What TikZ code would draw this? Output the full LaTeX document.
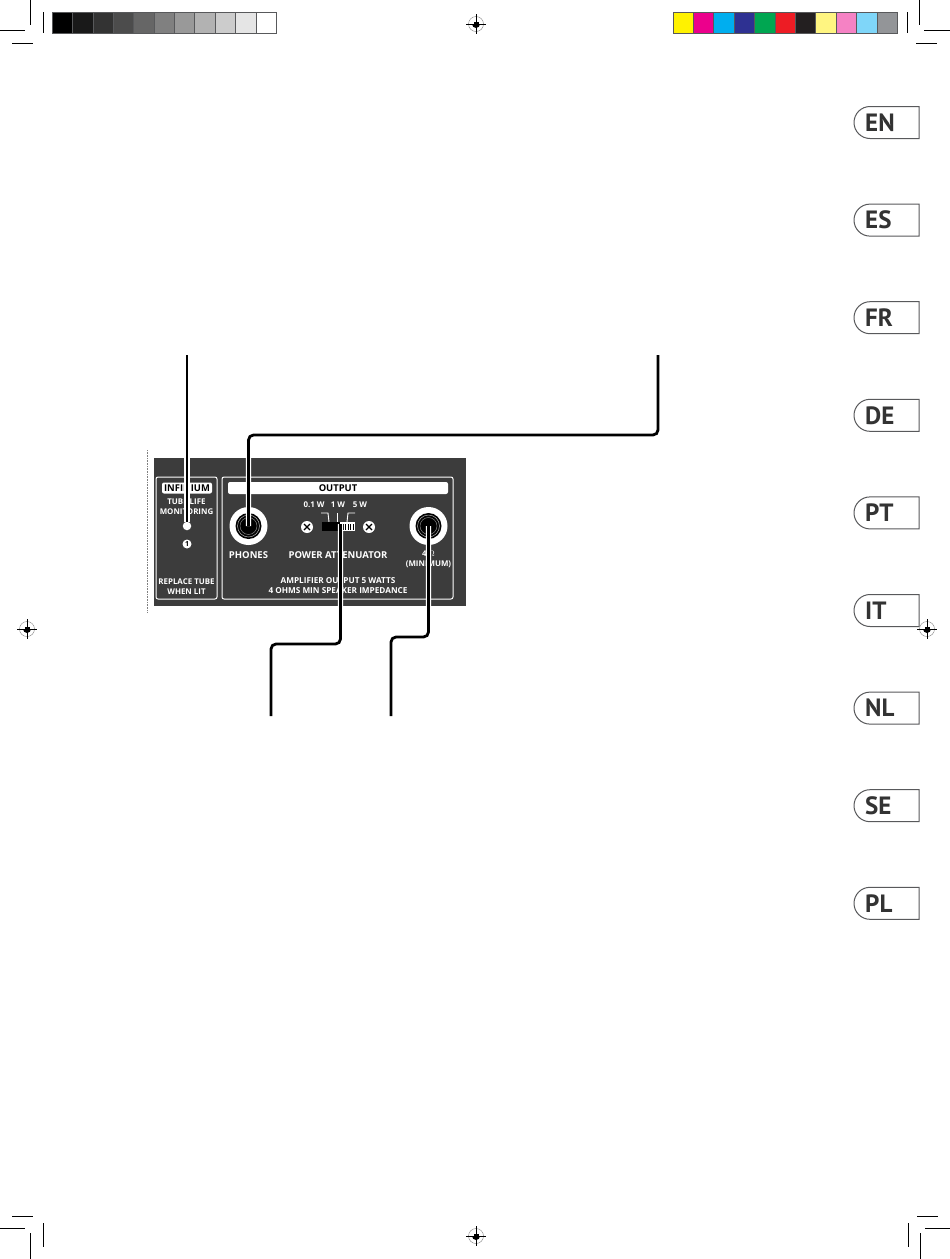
\documentclass[tikz,border=0pt]{standalone}
\usepackage{fontspec}
\usepackage{xcolor}
\usepackage{tikz}
\usetikzlibrary{positioning,calc}
\setmainfont{Open Sans}
\newfontfamily\tabfont{PT Sans}
\definecolor{paneldark}{HTML}{3C3C3C}
\definecolor{tabtext}{HTML}{333333}
\definecolor{tabedge}{HTML}{58595B}
\tikzset{
  crop/.style={black,line width=0.7pt},
  swatch/.style={draw=tabedge,line width=0.8pt,minimum width=20.4pt,minimum height=21pt,inner sep=0pt},
  tabtag/.style={anchor=west,inner sep=0pt,text=tabtext,font=\tabfont\bfseries\fontsize{25}{25}\selectfont},
  paneltext/.style={inner sep=0pt,text=white,align=center,font=\bfseries\fontsize{7.9}{10}\selectfont},
  panelwide/.style={paneltext,font=\bfseries\fontsize{8.2}{10}\selectfont},
  panelbig/.style={paneltext,font=\bfseries\fontsize{9.5}{10}\selectfont},
  panelbar/.style={fill=white,rounded corners=2pt,inner sep=0pt,text=black,font=\bfseries\fontsize{9.4}{10}\selectfont},
  panelbox/.style={draw=white,line width=1pt,rounded corners=2pt},
  jack/.style={circle,fill=white,inner sep=0pt,minimum size=38pt},
  screw/.style={circle,fill=white,inner sep=0pt,minimum size=12pt},
  leader/.style={line width=2.8pt,rounded corners=5pt,preaction={draw,white,line width=5.2pt}}
}
\newcommand{\regmark}[1]{
\draw[line width=0.4pt,gray](#1)circle(7.5pt);
\fill[black]($(#1)+(-4,0)$)arc(180:360:4pt)--cycle;
\fill[black]($(#1)+(-2.5,-2)$)rectangle($(#1)+(2.5,2)$);
\draw[line width=0.6pt]($(#1)+(-10,0)$)--($(#1)+(10,0)$);
\draw[line width=0.6pt]($(#1)+(0,-10)$)--($(#1)+(0,10)$);
}
\newcommand{\jackrings}[1]{
\fill[black](#1)circle(13pt);
\draw[white!70!black,line width=0.5pt](#1)circle(11pt);
\draw[white!50!black,line width=0.5pt](#1)circle(8.5pt);
\fill[black](#1)circle(6.5pt);
}
\begin{document}
\begin{tikzpicture}[x=1pt,y=-1pt]
\useasboundingbox(0,0)rectangle(950,1259);
\fill[white](0,0)rectangle(950,1259);
\foreach \a/\b/\c/\d in {30/0/30/25,0/30/25/30,43/12/43/33,12/43/33/43,919/0/919/25,924/30/950/30,907/12/907/33,916/43/937/43,12/1216/33/1216,0/1228/25/1228,43/1223/43/1247,30/1233/30/1259,917/1216/938/1216,925/1228/950/1228,908/1223/908/1247,920/1233/920/1259}
  \draw[crop](\a,\b)--(\c,\d);
\foreach \k/\g in {0/100,1/90,2/80,3/70,4/60,5/50,6/40,7/30,8/20,9/10,10/0}
  \node[swatch,fill=black!\g,anchor=north west](gray\k)at({52+\k*20.35},12.3){};
\foreach \k/\c in {0/FFF200,1/EC008C,2/00AEEF,3/2E3192,4/00A651,5/ED1C24,6/231F20,7/FFF581,8/F582C4,9/7FD6F9,10/939598}{
  \definecolor{patch}{HTML}{\c}
  \node[swatch,fill=patch,anchor=north west](colour\k)at({672.6+\k*20.4},12.3){};
}
\regmark{476,24}
\regmark{27,629}
\regmark{927,629}
\regmark{476,1236}
\foreach \k/\t in {0/EN,1/ES,2/FR,3/DE,4/PT,5/IT,6/NL,7/SE,8/PL}{
  \draw[tabedge,line width=1pt,fill=white]({919},{106.5+\k*97.6})--(870,{106.5+\k*97.6})
    arc(90:270:{16pt})--(919,{138.5+\k*97.6})--cycle;
  \node[tabtag](tab\t)at(865,{122.5+\k*97.6}){\t};
}
\draw[gray,densely dotted,line width=0.6pt](147.5,450)--(147.5,613);
\fill[paneldark](154,458)rectangle(466,606);
\draw[panelbox](156,477)rectangle(217,599);
\draw[panelbox](222,477)rectangle(453,599);
\node[panelbar,minimum width=50pt,minimum height=11pt](infinium)at(187,488){INFINIUM};
\node[paneltext](tubelife)at(186.5,507){TUBE LIFE\\MONITORING};
\node[circle,fill=white,inner sep=0pt,minimum size=8.5pt](led)at(187,526){};
\node[circle,fill=white,inner sep=0pt,minimum size=9pt,text=black,font=\bfseries\fontsize{7}{7}\selectfont](ledone)at(187,544){1};
\node[paneltext](replace)at(186.5,586.5){REPLACE TUBE\\WHEN LIT};
\node[panelbar,minimum width=220pt,minimum height=12pt](output)at(338,488){OUTPUT};
\node[jack](phones)at(248.5,526){};
\jackrings{phones.center}
\node[jack](speaker)at(428.5,526){};
\jackrings{speaker.center}
\node[panelbig](phoneslabel)at(248.5,555.5){PHONES};
\node[panelbig](powerlabel)at(338,555.5){POWER ATTENUATOR};
\node[paneltext](ohms)at(428.5,559){4 $\Omega$\\(MINIMUM)};
\node[panelwide](amplifier)at(338,586){AMPLIFIER OUTPUT 5 WATTS\\4 OHMS MIN SPEAKER IMPEDANCE};
\foreach \n/\x in {screwa/307,screwb/369}{
  \node[screw](\n)at(\x,527){};
  \draw[black,line width=1.3pt]($(\n)+(-3,-3)$)--($(\n)+(3,3)$);
  \draw[black,line width=1.3pt]($(\n)+(-3,3)$)--($(\n)+(3,-3)$);
}
\node[paneltext](tenth)at(314,505){0.1 W};
\node[paneltext](onewatt)at(338,505){1 W};
\node[paneltext](fivewatt)at(360,505){5 W};
\draw[white,line width=0.9pt](321,513)--(328,513)--(329,522);
\draw[white,line width=0.9pt](337.5,513)--(337.5,522);
\draw[white,line width=0.9pt](355,513)--(348,513)--(347,522);
\node[fill=white,inner sep=0pt,minimum width=33pt,minimum height=9pt](switch)at(338.5,526.5){};
\fill[black](322,522)rectangle(340,531);
\foreach \x in {343,345.5,348,350.5,353}
  \draw[black,line width=0.6pt](\x,524)--(\x,529.5);
\coordinate(ledend)at(187,355);
\coordinate(phonesend)at(658,355);
\coordinate(phonesbend)at(248.5,435);
\coordinate(switchend)at(271,716);
\coordinate(switchbend)at(340.5,644);
\coordinate(switchtip)at(340.5,524);
\coordinate(speakerend)at(391,716);
\coordinate(speakerbend)at(428.5,637);
\draw[leader](ledend)--(led.north);
\draw[leader](phonesend)|-(phonesbend)--(phones.center);
\draw[leader](switchend)|-(switchbend)--(switchtip);
\draw[leader](speakerend)|-(speakerbend)--(speaker.center);
\end{tikzpicture}
\end{document}
